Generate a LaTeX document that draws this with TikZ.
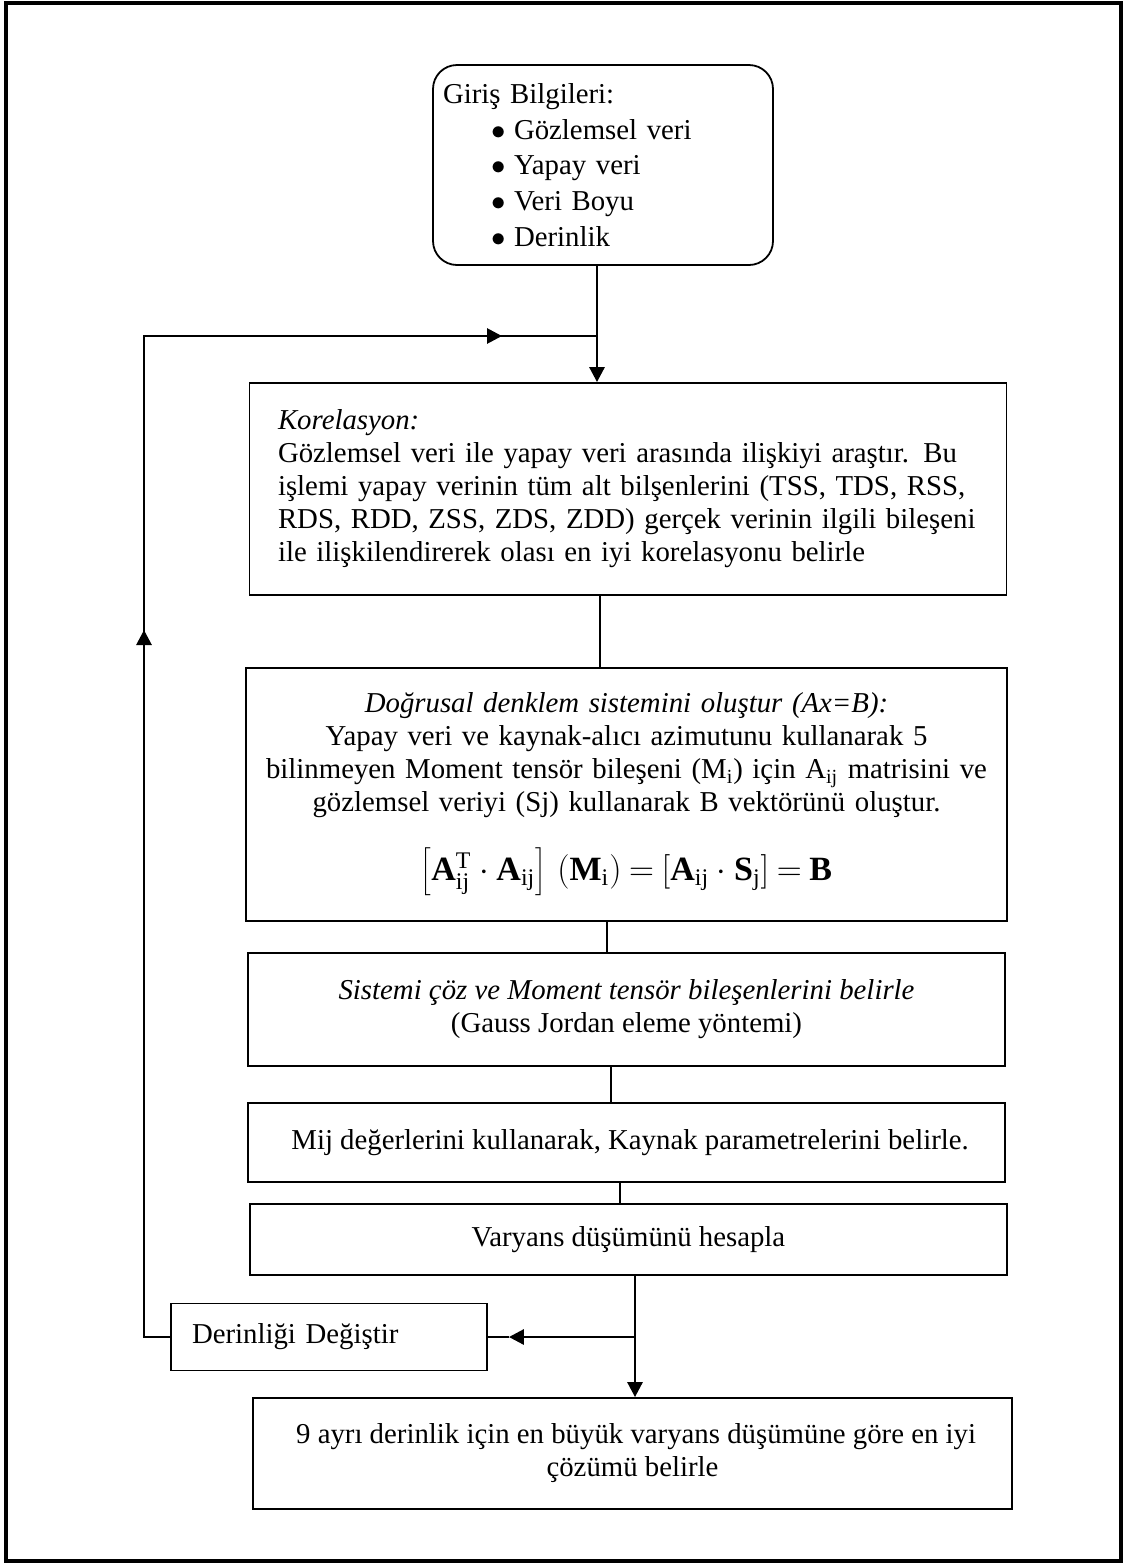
\documentclass[tikz,border=0pt]{standalone}
\usepackage{fontspec}
\setmainfont{Liberation Serif}
\usetikzlibrary{arrows.meta,positioning,calc}

\newcommand{\yazi}{\fontsize{14.4}{16.5}\selectfont}
\newcommand{\satir}[1]{\makebox[\linewidth][s]{#1}}
\newcommand{\madde}[1]{\hspace*{24pt}\makebox[11.5pt][l]{$\bullet$}#1}

\tikzset{
  kutu/.style={draw, line width=0.9pt, rectangle, inner sep=0pt, font=\yazi},
  hat/.style={line width=0.9pt},
  okhat/.style={line width=1.4pt, -{Triangle[length=7.5pt,width=7.5pt]}},
}

\begin{document}
\begin{tikzpicture}[x=0.5pt,y=0.5pt,yscale=-1]
\useasboundingbox (0,0) rectangle (1125,1564);
% outer frame
\draw[line width=1.8pt] (6,3) rectangle (1121,1561);

% boxes
\node[kutu, rounded corners=12pt, minimum width=170pt, minimum height=100pt,
      text width=160pt, align=left, font=\fontsize{14.4}{17.8}\selectfont]
  (giris) at (603,165) {Giriş Bilgileri:\\
  \madde{Gözlemsel veri}\\
  \madde{Yapay veri}\\
  \madde{Veri Boyu}\\
  \madde{Derinlik}};

\node[kutu, minimum width=378.5pt, minimum height=106pt, text width=356pt, align=left]
  (korel) at (628,489) {\hspace*{3pt}\textit{Korelasyon:}\\
  \hspace*{3pt}\satir{Gözlemsel veri ile yapay veri arasında ilişkiyi araştır. Bu}\\
  \hspace*{3pt}\satir{işlemi yapay verinin tüm alt bilşenlerini (TSS, TDS, RSS,}\\
  \hspace*{3pt}\satir{RDS, RDD, ZSS, ZDS, ZDD) gerçek verinin ilgili bileşeni}\\
  \hspace*{3pt}ile ilişkilendirerek olası en iyi korelasyonu belirle};

\node[kutu, minimum width=380.5pt, minimum height=126.5pt, text width=375pt, align=center]
  (dogru) at (626.5,794.5) {\textit{Doğrusal denklem sistemini oluştur (Ax=B):}\\
  Yapay veri ve kaynak-alıcı azimutunu kullanarak 5\\
  bilinmeyen Moment tensör bileşeni (M\textsubscript{i}) için A\textsubscript{ij} matrisini ve\\
  gözlemsel veriyi (Sj) kullanarak B vektörünü oluştur.\\[14pt]
  \mbox{\fontsize{17}{20}\selectfont
  $\left[\mathbf{A}^{\mathrm{T}}_{\mathrm{ij}}\cdot\mathbf{A}_{\mathrm{ij}}\right]\,
  \left(\mathbf{M}_{\mathrm{i}}\right)\mathbin{\mathbf{=}}
  \left[\mathbf{A}_{\mathrm{ij}}\cdot\mathbf{S}_{\mathrm{j}}\right]\mathbin{\mathbf{=}}\mathbf{B}$}};

\node[kutu, minimum width=378.5pt, minimum height=56.5pt, align=center]
  (sistem) at (626.5,1009.5) {\textit{Sistemi çöz ve Moment tensör bileşenlerini belirle}\\
  (Gauss Jordan eleme yöntemi)};

\node[kutu, minimum width=378.5pt, minimum height=39.5pt, align=center]
  (mij) at (626.5,1142.5) {\ Mij değerlerini kullanarak, Kaynak parametrelerini belirle.};

\node[kutu, minimum width=378.5pt, minimum height=35.5pt, align=center]
  (varyans) at (628.5,1239.5) {Varyans düşümünü hesapla};

\node[kutu, minimum width=158pt, minimum height=33.5pt, text width=137pt, align=left]
  (derin) at (329,1337) {Derinliği Değiştir};

\node[kutu, minimum width=379.5pt, minimum height=55.5pt, align=center]
  (sonuc) at (632.5,1453.5) {\ 9 ayrı derinlik için en büyük varyans düşümüne göre en iyi\\
  çözümü belirle};

% helper points
\coordinate (jn) at (597,336);
\coordinate (solust) at (144,336);
\coordinate (okalt) at (144,715);
\coordinate (okust) at (144,630);
\coordinate (sagbas) at (418,336);
\coordinate (sagson) at (502,336);
\coordinate (ayr) at ([xshift=3.25pt]varyans.south |- derin.east);
\coordinate (ok1) at ($(derin.east)+(21,0)$);

% connectors
\draw[hat] (giris.south -| jn) -- (jn);
\draw[okhat] (jn) -- (jn |- korel.north);
\draw[hat] ([xshift=-14pt]korel.south) -- ([xshift=-14pt]korel.south |- dogru.north);
\draw[hat] ([xshift=-9.75pt]dogru.south) -- ([xshift=-9.75pt]dogru.south |- sistem.north);
\draw[hat] ([xshift=-7.75pt]sistem.south) -- ([xshift=-7.75pt]sistem.south |- mij.north);
\draw[hat] ([xshift=-3.25pt]mij.south) -- ([xshift=-3.25pt]mij.south |- varyans.north);
\draw[okhat] ([xshift=3.25pt]varyans.south) -- ([xshift=3.25pt]varyans.south |- sonuc.north);
\draw[okhat] (ayr) -- (ok1);
\draw[hat] (ok1) -- (derin.east);
% loop back
\draw[hat] (derin.west) -| (solust) -- (jn);
\draw[okhat] (okalt) -- (okust);
\draw[okhat] (sagbas) -- (sagson);
\end{tikzpicture}
\end{document}
